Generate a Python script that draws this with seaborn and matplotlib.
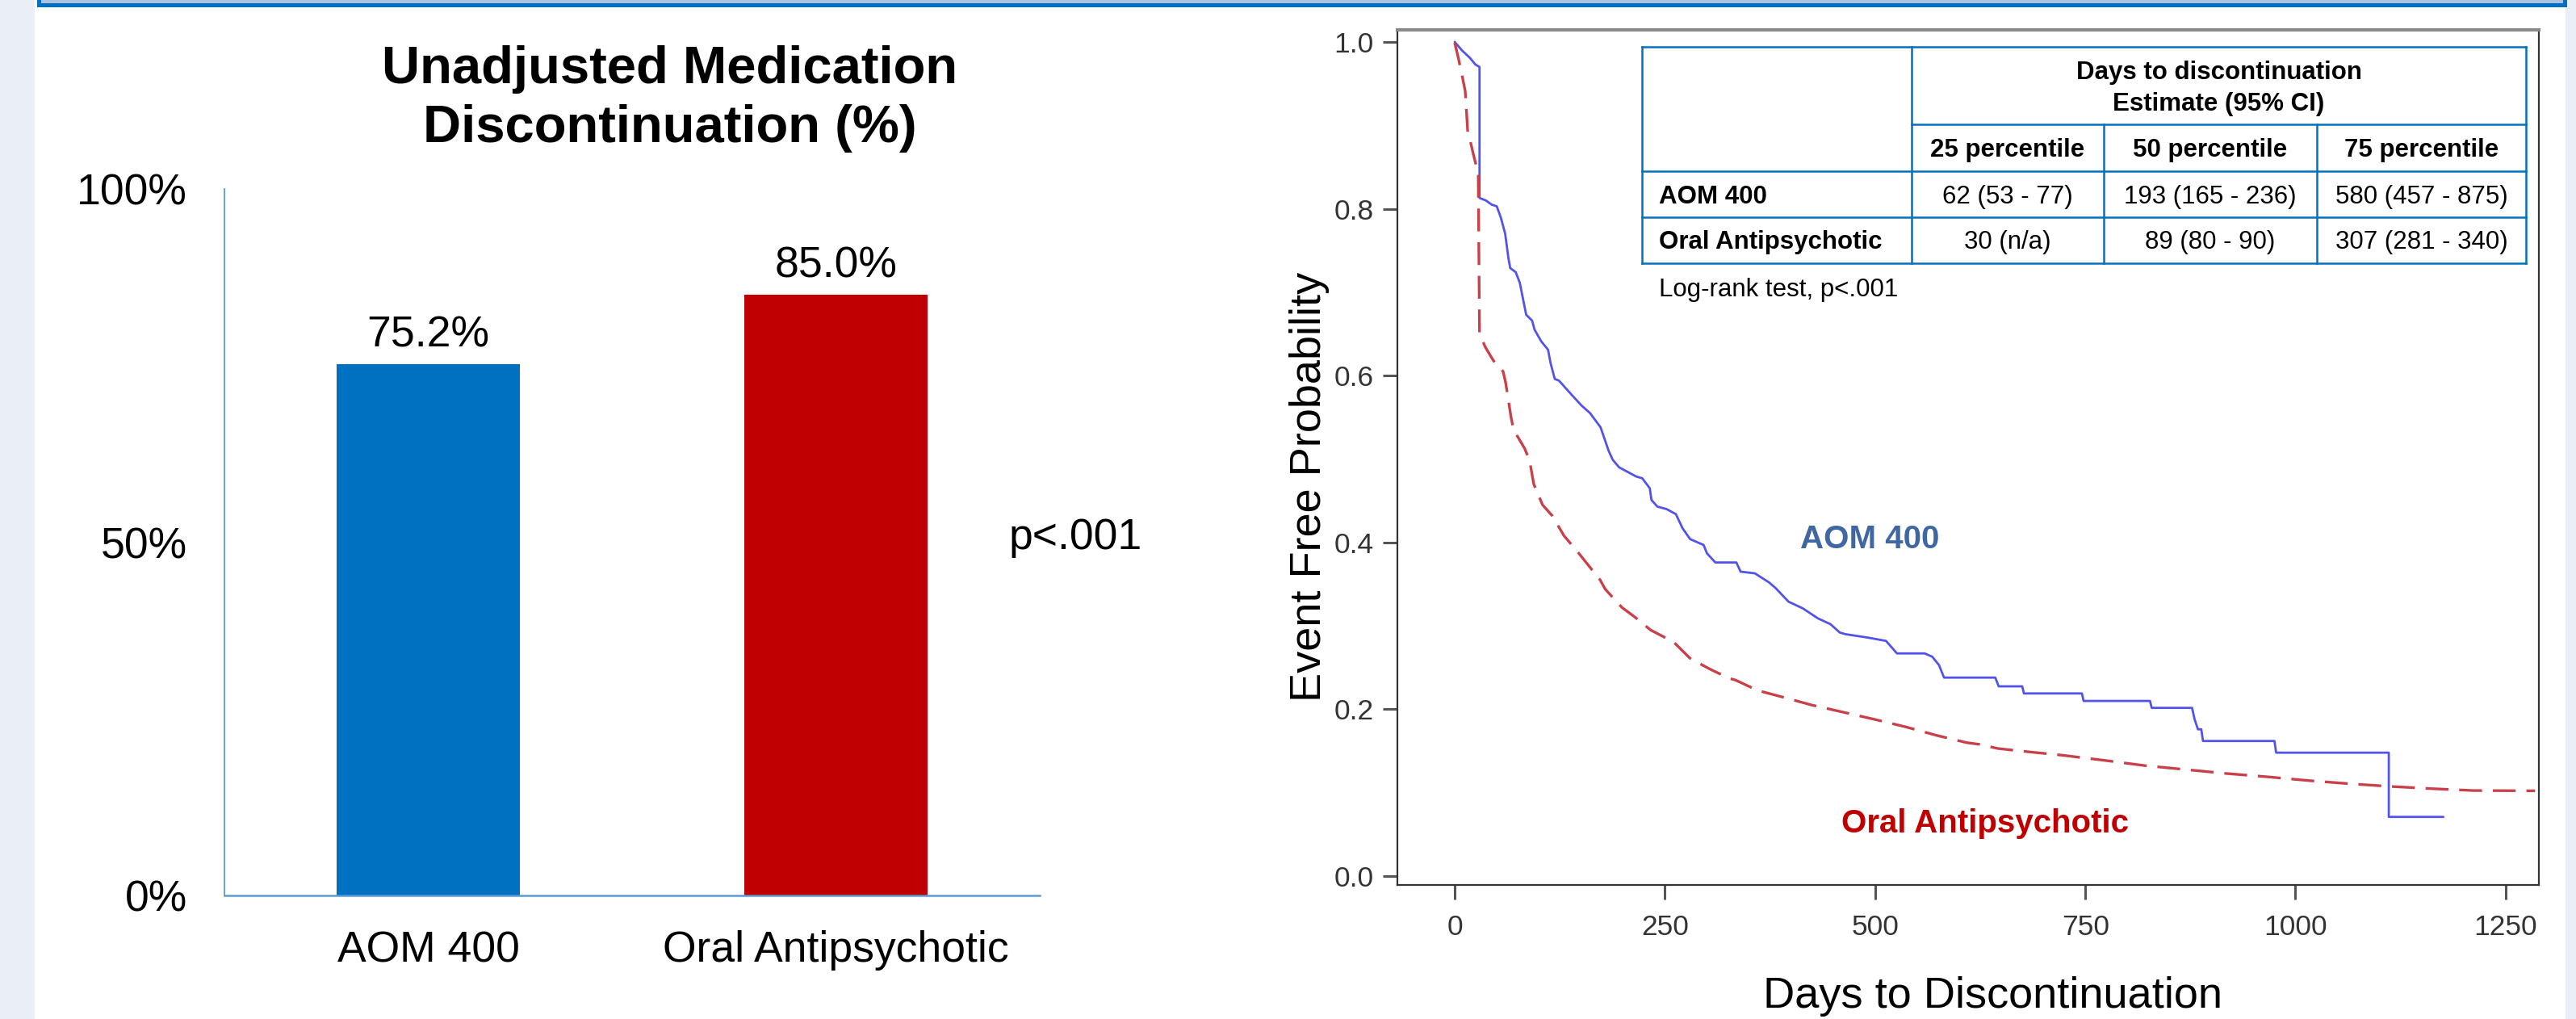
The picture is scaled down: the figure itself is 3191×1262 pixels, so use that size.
import numpy as np
import pandas as pd
import matplotlib
matplotlib.use("Agg")
import matplotlib.pyplot as plt
import seaborn as sns
from matplotlib.patches import Rectangle

# ---------------- data ----------------
bar_groups = ["AOM 400", "Oral Antipsychotic"]
bar_values = [75.2, 85.0]
bar_colors = ["#0070C0", "#C00000"]
bar_yticks = [0, 50, 100]
bar_yticklabels = ["0%", "50%", "100%"]

aom_days = [0, 8.5, 18, 24.6, 29.5, 29.5, 37, 44, 50, 55, 60, 64, 66, 72.6, 77.5, 80.6, 85, 92,
            95, 103, 111, 114, 119, 124, 140, 151, 161, 173.5, 183, 188, 195.6, 216, 223, 232,
            234, 241, 252, 263, 271, 280, 296, 300, 310, 335, 340, 357, 374, 382, 397, 414, 432,
            447, 458, 465, 491, 513, 526, 559, 568, 576, 582, 643, 647, 675, 677, 746, 748, 827,
            829, 877, 880, 884, 888, 890, 975, 977, 1111, 1111, 1176]
aom_surv = [1.0, 0.99, 0.981, 0.973, 0.970, 0.813, 0.810, 0.805, 0.803, 0.789, 0.77, 0.74, 0.729,
            0.724, 0.711, 0.695, 0.673, 0.666, 0.655, 0.641, 0.631, 0.615, 0.596, 0.594, 0.576,
            0.564, 0.555, 0.538, 0.51, 0.499, 0.490, 0.479, 0.477, 0.465, 0.451, 0.443, 0.440,
            0.434, 0.417, 0.404, 0.397, 0.387, 0.376, 0.376, 0.365, 0.363, 0.352, 0.345, 0.329,
            0.321, 0.309, 0.302, 0.292, 0.290, 0.286, 0.282, 0.267, 0.267, 0.263, 0.253, 0.238,
            0.238, 0.2275, 0.2275, 0.219, 0.219, 0.21, 0.21, 0.2017, 0.2017, 0.188, 0.176, 0.176,
            0.162, 0.162, 0.148, 0.148, 0.071, 0.071]

oral_days = [0, 4.5, 9.3, 12.5, 15.5, 19, 22, 25, 28, 29.5, 36.5, 46, 57.5, 60.5, 67, 70, 83, 89,
             94, 104.5, 116, 130, 146, 173, 179, 199, 205, 215, 233, 254, 260, 280, 302, 308, 327,
             334, 360, 396, 425, 460, 499, 536, 574, 609, 624, 646, 673, 722, 771, 820, 869, 918,
             967, 1016, 1065, 1113, 1163, 1211, 1285]
oral_surv = [0.999, 0.98, 0.957, 0.941, 0.892, 0.879, 0.866, 0.854, 0.841, 0.650, 0.634, 0.618,
             0.605, 0.592, 0.550, 0.535, 0.513, 0.4985, 0.47, 0.445, 0.432, 0.408, 0.389, 0.355,
             0.344, 0.322, 0.3175, 0.31, 0.295, 0.284, 0.281, 0.261, 0.249, 0.246, 0.237, 0.235,
             0.2227, 0.213, 0.205, 0.197, 0.188, 0.179, 0.1685, 0.160, 0.158, 0.153, 0.150, 0.145,
             0.139, 0.1326, 0.1278, 0.123, 0.119, 0.1145, 0.1107, 0.1075, 0.1048, 0.1026, 0.1023]

km_xticks = [0, 250, 500, 750, 1000, 1250]
km_yticks = [0.0, 0.2, 0.4, 0.6, 0.8, 1.0]
km_yticklabels = ["0.0", "0.2", "0.4", "0.6", "0.8", "1.0"]

table_title = ["Days to discontinuation", "Estimate (95% CI)"]
table_cols = ["25 percentile", "50 percentile", "75 percentile"]
table_rows = ["AOM 400", "Oral Antipsychotic"]
table_aom = ["62 (53 - 77)", "193 (165 - 236)", "580 (457 - 875)"]
table_oral = ["30 (n/a)", "89 (80 - 90)", "307 (281 - 340)"]
table_values = [table_aom, table_oral]
footnote = "Log-rank test, p<.001"

# ---------------- layout ----------------
W, H = 3191, 1262
DPI = 100
sns.set_theme(style="white")
plt.rcParams["font.family"] = ["Liberation Sans", "DejaVu Sans"]
plt.rcParams["text.color"] = "black"
plt.rcParams["axes.labelcolor"] = "black"


def rect(l, t, r, b):
    return [l / W, 1 - b / H, (r - l) / W, (b - t) / H]


fig = plt.figure(figsize=(W / DPI, H / DPI), dpi=DPI)
fig.patch.set_facecolor("#E9EEF7")
fig.add_artist(Rectangle((43 / W, 0), (3178 - 43) / W, 1, transform=fig.transFigure,
                         facecolor="white", edgecolor="none", zorder=0))
fig.add_artist(Rectangle((47.5 / W, 1 - 6 / H), (3176.5 - 47.5) / W, 40 / H,
                         transform=fig.transFigure, facecolor="#A9C2E2",
                         edgecolor="#0070C0", lw=3.6, zorder=1))

# ---------------- left: bar chart ----------------
ax1 = fig.add_axes(rect(278, 234, 1288, 1109))
ax1.patch.set_alpha(0)
sns.barplot(x=bar_groups, y=bar_values, hue=bar_groups, palette=bar_colors, width=0.45,
            saturation=1, linewidth=0, legend=False, ax=ax1)
ax1.set_xlim(-0.5, 1.5)
ax1.set_ylim(0, 100)
ax1.set_yticks(bar_yticks, bar_yticklabels)
ax1.tick_params(axis="y", length=0, pad=33, labelsize=38.5, labelcolor="black")
ax1.tick_params(axis="x", length=0, pad=31, labelsize=38.5, labelcolor="black")
ax1.set_xlabel("")
ax1.set_ylabel("")
for s in ["top", "right"]:
    ax1.spines[s].set_visible(False)
ax1.spines["left"].set_color("#5B9BD5")
ax1.spines["left"].set_linewidth(1.3)
ax1.spines["bottom"].set_color("#5B9BD5")
ax1.spines["bottom"].set_linewidth(1.8)
for i, v in enumerate(bar_values):
    ax1.annotate(f"{v:.1f}%", (i, v), xytext=(0, 15.5), textcoords="offset points",
                 ha="center", va="baseline", fontsize=38.5, color="black")

fig.text(830 / W, 1 - 103 / H, "Unadjusted Medication", ha="center", va="baseline",
         fontsize=47, weight="bold", color="black")
fig.text(830 / W, 1 - 176 / H, "Discontinuation (%)", ha="center", va="baseline",
         fontsize=47, weight="bold", color="black")
fig.text(1332 / W, 1 - 680 / H, "p<.001", ha="center", va="baseline", fontsize=38.5,
         color="black")

# ---------------- right: Kaplan-Meier ----------------
ax2 = fig.add_axes(rect(1731, 37, 3145, 1096))
ax2.set_facecolor("white")
sns.lineplot(x=aom_days, y=aom_surv, color="#5252EC", lw=2.0, estimator=None, sort=False,
             ax=ax2)
sns.lineplot(x=oral_days, y=oral_surv, color="#C9404A", lw=2.4, estimator=None, sort=False,
             linestyle=(0, (8.5, 4)), ax=ax2)
ax2.set_xlim(-68.2, 1289.5)
ax2.set_ylim(-0.0106, 1.0145)
ax2.set_xticks(km_xticks, [str(t) for t in km_xticks])
ax2.set_yticks(km_yticks, km_yticklabels)
ax2.tick_params(bottom=True, left=True, direction="out", length=13, width=2.2, color="#555555",
                labelsize=25.5, labelcolor="#333333")
ax2.tick_params(axis="x", pad=13)
ax2.tick_params(axis="y", pad=8)
for s in ["left", "bottom", "right"]:
    ax2.spines[s].set_color("#333333")
    ax2.spines[s].set_linewidth(1.6)
ax2.spines["top"].set_color("#8A8A8A")
ax2.spines["top"].set_linewidth(3)
ax2.set_xlabel("")
ax2.set_ylabel("")

fig.text(1636 / W, 1 - 603 / H, "Event Free Probability", rotation=90, ha="center",
         va="baseline", fontsize=39, rotation_mode="anchor", color="black")
fig.text(2468 / W, 1 - 1248 / H, "Days to Discontinuation", ha="center", va="baseline",
         fontsize=39, color="black")
fig.text(2316 / W, 1 - 679 / H, "AOM 400", ha="center", va="baseline", fontsize=29,
         weight="bold", color="#3F68A3")
fig.text(2459 / W, 1 - 1030.6 / H, "Oral Antipsychotic", ha="center", va="baseline",
         fontsize=29, weight="bold", color="#C00000")

# ---------------- table overlay ----------------
axo = fig.add_axes([0, 0, 1, 1], zorder=5)
axo.set_xlim(0, W)
axo.set_ylim(H, 0)
axo.axis("off")
axo.patch.set_alpha(0)

tx = [2034, 2368, 2606, 2870, 3129]
ty = [58, 154, 212, 269, 326]
LC = "#0070C0"
LW = 1.8
hl = [(tx[0], tx[-1], ty[0]), (tx[1], tx[-1], ty[1]), (tx[0], tx[-1], ty[2]),
      (tx[0], tx[-1], ty[3]), (tx[0], tx[-1], ty[4])]
vl = [(tx[0], ty[0], ty[4]), (tx[1], ty[0], ty[4]), (tx[2], ty[1], ty[4]),
      (tx[3], ty[1], ty[4]), (tx[4], ty[0], ty[4])]
for x0, x1, y in hl:
    axo.plot([x0, x1], [y, y], color=LC, lw=LW, solid_capstyle="projecting")
for x, y0, y1 in vl:
    axo.plot([x, x], [y0, y1], color=LC, lw=LW, solid_capstyle="projecting")

TFS = 22.5
cx_head = (tx[1] + tx[-1]) / 2
axo.text(cx_head, 98.3, table_title[0], ha="center", va="baseline", fontsize=TFS,
         weight="bold", color="black")
axo.text(cx_head, 136.7, table_title[1], ha="center", va="baseline", fontsize=TFS,
         weight="bold", color="black")
col_centers = [(tx[j + 1] + tx[j + 2]) / 2 for j in range(3)]
for j, c in enumerate(table_cols):
    axo.text(col_centers[j], 194, c, ha="center", va="baseline", fontsize=TFS, weight="bold",
             color="black")
row_base = [252, 308.3]
for i, r in enumerate(table_rows):
    axo.text(2055, row_base[i], r, ha="left", va="baseline", fontsize=TFS, weight="bold",
             color="black")
    for j, val in enumerate(table_values[i]):
        axo.text(col_centers[j], row_base[i], val, ha="center", va="baseline", fontsize=TFS,
                 color="black")
axo.text(2055, 366.7, footnote, ha="left", va="baseline", fontsize=TFS, color="black")

fig.savefig("out.png", dpi=DPI, facecolor=fig.get_facecolor())
